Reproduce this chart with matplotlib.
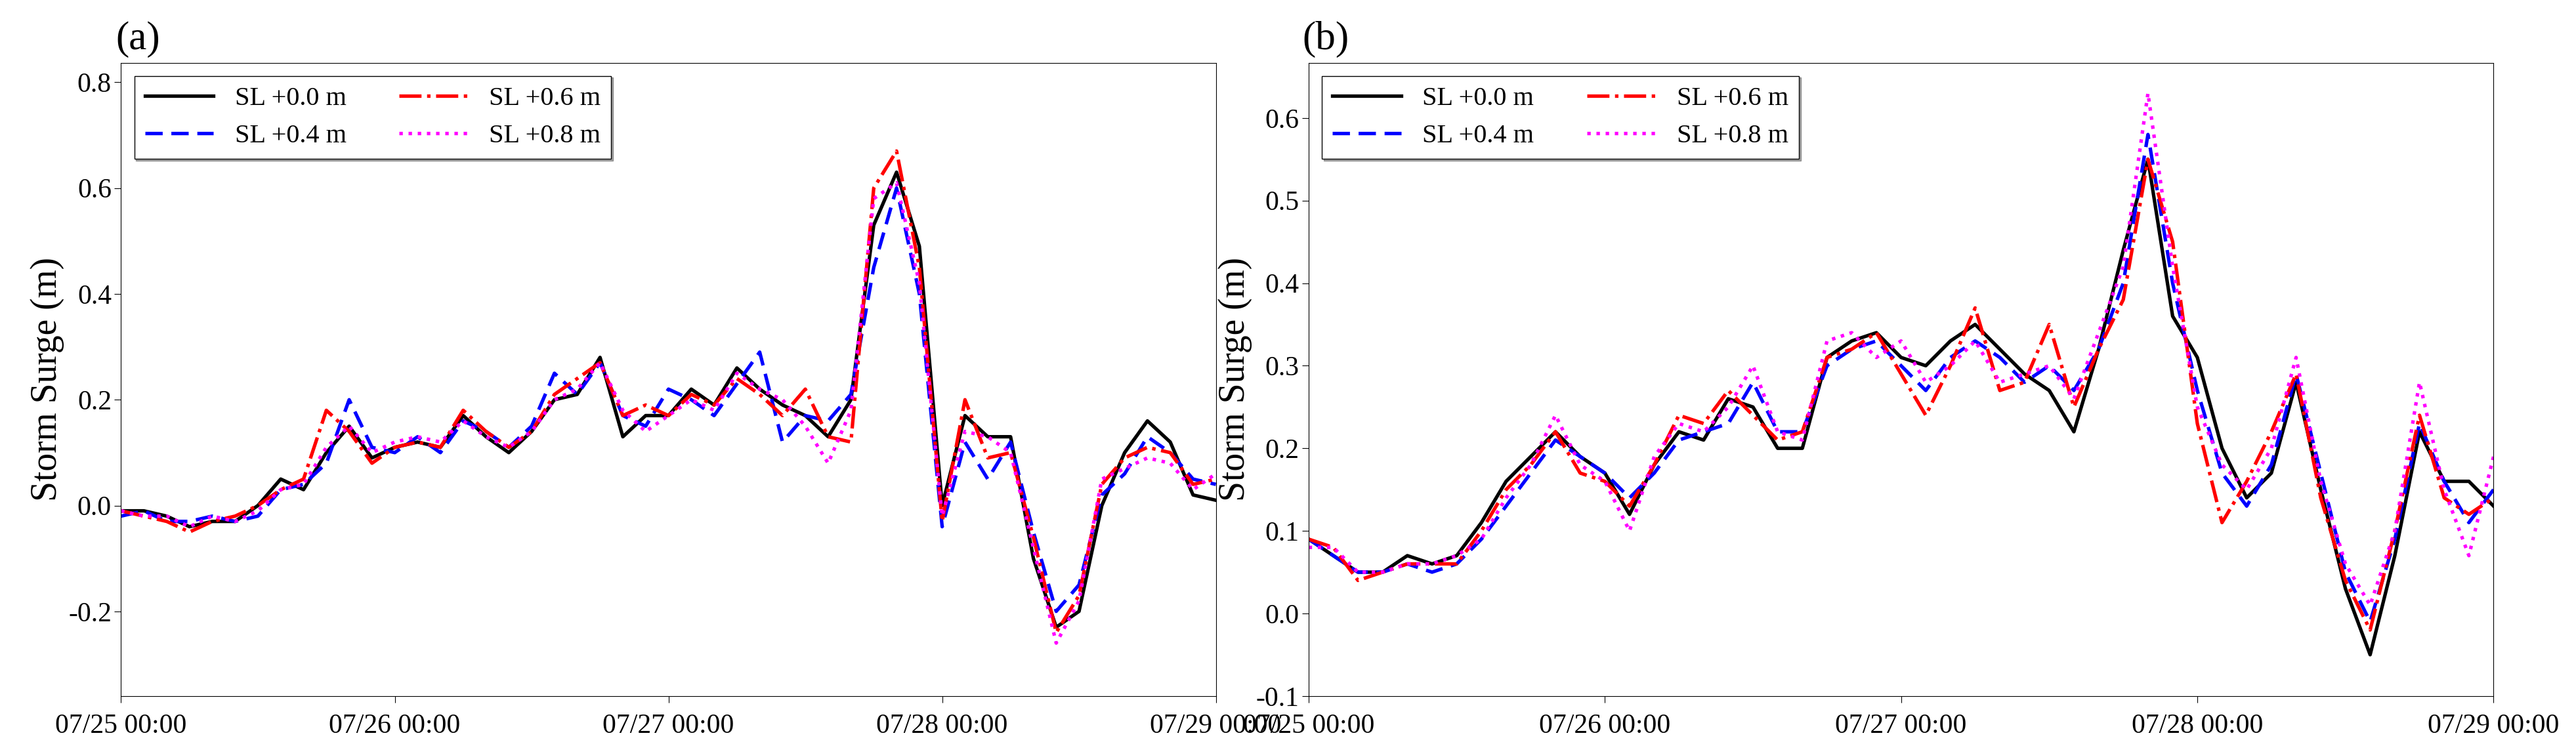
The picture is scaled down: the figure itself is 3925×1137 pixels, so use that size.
import numpy as np
import matplotlib
matplotlib.use("Agg")
import matplotlib.pyplot as plt

plt.rcParams['font.family'] = ['Liberation Serif', 'DejaVu Serif']

hours = np.arange(0, 97, 2)
tick_labels = ["07/25 00:00", "07/26 00:00", "07/27 00:00", "07/28 00:00", "07/29 00:00"]
labels = ["SL +0.0 m", "SL +0.4 m", "SL +0.6 m", "SL +0.8 m"]

a_00 = [-0.01,-0.01,-0.02,-0.04,-0.03,-0.03,0.00,0.05,0.03,0.10,0.15,0.09,
        0.11,0.12,0.11,0.17,0.13,0.10,0.14,0.20,0.21,0.28,0.13,0.17,
        0.17,0.22,0.19,0.26,0.22,0.19,0.17,0.13,0.20,0.53,0.63,0.49,
        0.00,0.17,0.13,0.13,-0.10,-0.23,-0.20,0.00,0.10,0.16,0.12,0.02,0.01]
a_04 = [-0.02,-0.01,-0.03,-0.03,-0.02,-0.03,-0.02,0.03,0.04,0.08,0.20,0.11,
        0.10,0.13,0.10,0.16,0.14,0.11,0.15,0.25,0.21,0.27,0.17,0.15,
        0.22,0.20,0.17,0.23,0.29,0.12,0.17,0.16,0.21,0.45,0.60,0.40,
        -0.04,0.12,0.05,0.12,-0.05,-0.20,-0.15,0.02,0.06,0.13,0.10,0.05,0.04]
a_06 = [-0.01,-0.02,-0.03,-0.05,-0.03,-0.02,0.00,0.03,0.05,0.18,0.14,0.08,
        0.11,0.12,0.11,0.18,0.14,0.11,0.14,0.21,0.24,0.27,0.17,0.19,
        0.17,0.21,0.19,0.24,0.21,0.17,0.22,0.13,0.12,0.60,0.67,0.45,
        -0.03,0.20,0.09,0.10,-0.06,-0.24,-0.17,0.04,0.09,0.11,0.10,0.04,0.05]
a_08 = [-0.01,-0.02,-0.02,-0.04,-0.02,-0.03,-0.01,0.03,0.04,0.11,0.15,0.10,
        0.12,0.13,0.12,0.16,0.13,0.11,0.14,0.20,0.22,0.27,0.18,0.14,
        0.17,0.20,0.18,0.25,0.22,0.20,0.15,0.08,0.18,0.58,0.61,0.42,
        -0.02,0.14,0.13,0.10,-0.08,-0.26,-0.18,0.05,0.07,0.09,0.08,0.03,0.06]

b_00 = [0.09,0.07,0.05,0.05,0.07,0.06,0.07,0.11,0.16,0.19,0.22,0.19,
        0.17,0.12,0.18,0.22,0.21,0.26,0.25,0.20,0.20,0.31,0.33,0.34,
        0.31,0.30,0.33,0.35,0.32,0.29,0.27,0.22,0.32,0.44,0.55,0.36,
        0.31,0.20,0.14,0.17,0.28,0.15,0.03,-0.05,0.07,0.22,0.16,0.16,0.13]
b_04 = [0.09,0.07,0.05,0.05,0.06,0.05,0.06,0.09,0.13,0.17,0.21,0.19,
        0.17,0.14,0.17,0.21,0.22,0.23,0.28,0.22,0.22,0.30,0.32,0.33,
        0.30,0.27,0.31,0.33,0.31,0.28,0.30,0.27,0.32,0.40,0.58,0.40,
        0.27,0.17,0.13,0.18,0.29,0.17,0.05,-0.01,0.09,0.23,0.16,0.11,0.15]
b_06 = [0.09,0.08,0.04,0.05,0.06,0.06,0.06,0.10,0.15,0.18,0.22,0.17,
        0.16,0.13,0.18,0.24,0.23,0.27,0.24,0.21,0.22,0.31,0.32,0.34,
        0.29,0.24,0.30,0.37,0.27,0.28,0.35,0.25,0.32,0.38,0.55,0.45,
        0.23,0.11,0.16,0.22,0.29,0.14,0.04,-0.02,0.10,0.24,0.14,0.12,0.14]
b_08 = [0.08,0.08,0.05,0.05,0.06,0.06,0.07,0.09,0.14,0.18,0.24,0.18,
        0.16,0.10,0.19,0.23,0.22,0.25,0.30,0.22,0.21,0.33,0.34,0.31,
        0.33,0.28,0.30,0.33,0.28,0.29,0.30,0.26,0.34,0.42,0.63,0.42,
        0.25,0.18,0.15,0.20,0.31,0.16,0.06,0.01,0.10,0.28,0.15,0.07,0.19]

styles = [dict(color='black', ls='-'), dict(color='blue', ls=(0, (5, 2.5))),
          dict(color='red', ls='-.'), dict(color='magenta', ls=':')]

fig = plt.figure(figsize=(39.25, 11.37), dpi=100)
ax1 = fig.add_axes([0.047, 0.067, 0.425, 0.849])
ax2 = fig.add_axes([0.508, 0.067, 0.460, 0.849])

for ax, series, ylim, yticks, tag in [
        (ax1, [a_00, a_04, a_06, a_08], (-0.36, 0.837), np.arange(-0.2, 0.81, 0.2), "(a)"),
        (ax2, [b_00, b_04, b_06, b_08], (-0.093, 0.667), np.arange(-0.1, 0.61, 0.1), "(b)")]:
    for s, st, lab in zip(series, styles, labels):
        ax.plot(hours, s, lw=3.8, label=lab, **st)
    ax.set_xlim(0, 96)
    ax.set_ylim(*ylim)
    ax.set_xticks([0, 24, 48, 72, 96])
    ax.set_xticklabels(tick_labels)
    ax.set_yticks(yticks)
    ax.set_yticklabels([f"{v:.1f}" for v in yticks])
    ax.tick_params(labelsize=30, length=7)
    ax.tick_params(axis='x', pad=12)
    ax.set_ylabel("Storm Surge (m)", fontsize=40)
    ax.text(-0.005, 1.008, tag, transform=ax.transAxes, fontsize=44, va='bottom', ha='left')
    ax.legend(loc='upper left', ncol=2, fontsize=29, frameon=True, fancybox=False,
              shadow=True, handlelength=2.6, columnspacing=2.0, edgecolor='black')

fig.savefig("out.png", dpi=100)
